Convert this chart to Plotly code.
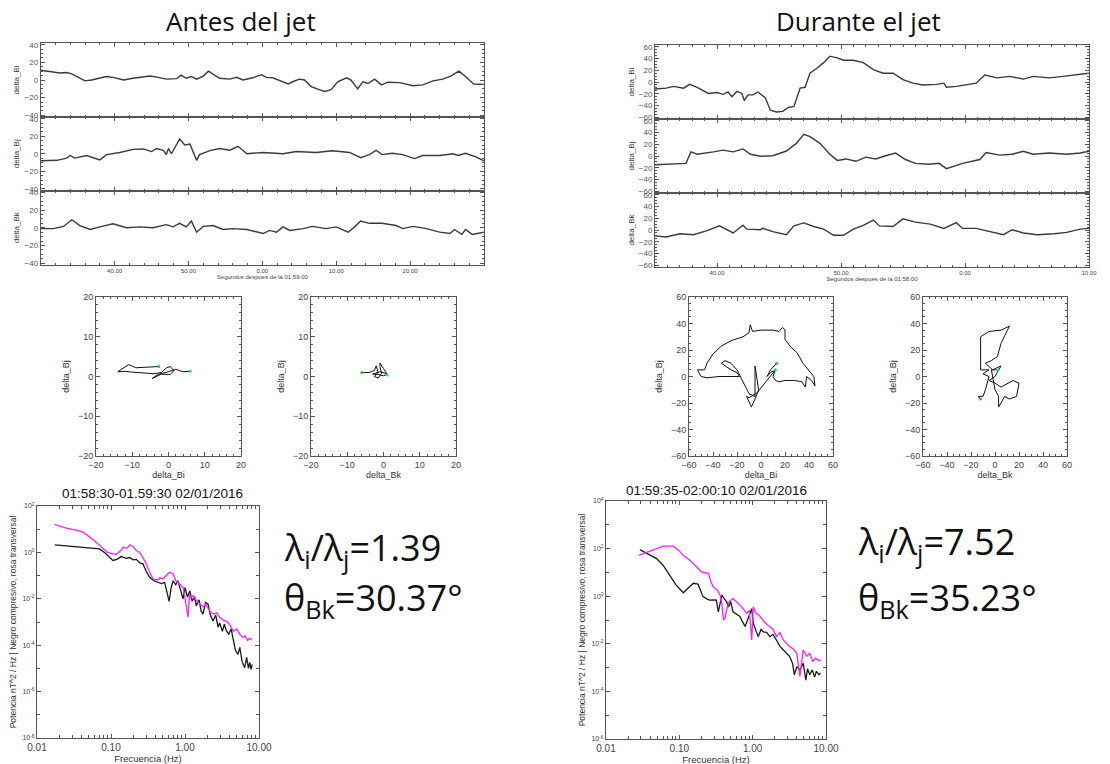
import plotly.graph_objects as go

W, H = 1110, 764
OFF = 8  # small shift so the boxes line up with the reference

# --- series temporales antes del jet (segundos desde 01:58:00)
t_bi_antes = [30, 31.7, 32.6, 33.5, 34.2, 35.3, 36, 36.9, 38, 38.9, 39.8, 41.2, 42.5, 43.9, 44.8, 45.9, 47,
              48.4, 49, 49.7, 50.4, 51.1, 52, 52.7, 53.3, 54.2, 55.6, 56.5, 57.4, 58.7, 59.9, 60.5, 61.4,
              62.6, 63.5, 64.1, 65, 65.7, 66.6, 67.7, 68.4, 69.3, 70.2, 71.4, 72, 72.9, 73.6, 74.3, 75.2,
              76.1, 77, 78.6, 80.4, 81.7, 83.1, 84.4, 85.5, 86.6, 87.5, 88.6, 90]
bi_antes = [11, 9, 8, 8.5, 7, 2, -1, 0, 2, 4, 3, 0, 2, 4, 4.5, 3, 1,
            1.5, 5.5, 2, 4, 1, 4.5, 10, 7, 2, 1, 3, 0, 2.5, 6, 3, 2.5,
            -2, -4.5, -2, 1, 0, -7.5, -11, -13, -11, -2, 2.5, 0, -10, -2, -4, 1,
            -5.5, -2.5, -3, -6.5, -5.5, -1, 1, 4.5, 10, 4, -4.5, -5]

t_bj_antes = [30, 32.2, 33.5, 34, 34.6, 36.2, 38, 38.9, 40.7, 42.5, 43.9, 45, 45.7, 46.6, 47, 47.3, 47.7,
              48.8, 49.5, 50.2, 51.1, 51.5, 52.9, 54.2, 55.6, 56.7, 57.9, 60.1, 62.8, 64.6, 67.3, 69.5,
              71.8, 73.3, 74.5, 75.4, 76.2, 77.6, 79, 80.6, 81.7, 84, 85.8, 86.5, 87.5, 88.9, 90]
bj_antes = [-8, -7.5, -5, -2, -5, -2, -7, -1, 1.5, 5, 5.5, 2.5, 6, 4, -1, 6, 0,
            17, 10, 11, -7.5, -1, 3.5, 6, 4, 8.5, 0, 1.5, 0, 2.5, 1.5, 3.5,
            1.5, -4.5, -1, 4, -1, 0.5, -1, -5.5, -2, -2, 0, -2, 0.5, -3.5, -8]

t_bk_antes = [30, 31.7, 33.1, 34.2, 35.3, 36.7, 38, 39.8, 41.6, 43.4, 45.2, 47, 47.9, 48.8, 49.7, 50.4,
              51.1, 52, 53.3, 54.7, 56, 57.9, 60.1, 61, 61.9, 62.8, 63.7, 65.5, 66.8, 68.6, 70, 71.6,
              72.5, 73.3, 74.5, 76.2, 78.1, 79, 80.4, 82.2, 84, 85.4, 86, 87, 87.5, 88.4, 90]
bk_antes = [-1, -1, 1.5, 9, 2.5, -2, 1, 4.5, 0, 1, 0, 3.5, 1, 5, 1, 7.5,
            -5, 1.5, 2.5, -2, -1, -2, -6.5, -3, -5, 1, -3, -1, 1.5, -1, 1, -5,
            1, 7.5, 5, 5, 2.5, -1, 1.5, -1, -5, -6.5, -2, -7.5, -2, -7.5, -5]

# --- series temporales durante el jet (segundos desde 01:59:00)
t_bi_durante = [35, 35.9, 36.5, 37.3, 37.8, 38.4, 39.3, 40, 40.5, 40.9, 41.2, 41.6, 42, 42.2, 42.5, 42.9,
                43.3, 43.9, 44.3, 44.8, 45.3, 45.8, 46.2, 46.7, 47.1, 47.5, 48, 48.6, 49.1, 49.7, 50.2,
                51, 51.8, 52.6, 53.4, 54.2, 55, 55.8, 56.6, 57.7, 58.3, 58.5, 59.3, 60.1, 60.9, 61.6,
                62.6, 63.6, 64.7, 65.5, 66.8, 67.9, 69, 70]
bi_durante = [-12, -10.5, -7.5, -10.5, -4, -9, -19.5, -18, -21, -17, -25, -16, -19.5, -31.5, -22, -22,
              -17, -27, -48, -51, -50, -43, -42, -10.5, -9, 15, 22.5, 33, 44, 41, 37,
              37, 33, 21, 15, 15, 4, -2, -5, -4, -2, -9, -7.5, -5, -2, 12,
              7, 9.5, 5, 9.5, 7, 9.5, 12, 15]

t_bj_durante = [35, 36.7, 37.5, 37.9, 38.4, 39.7, 40.5, 41.3, 42.1, 42.7, 43.5, 44.5, 45.6, 46.4, 47,
                47.5, 48.3, 49.1, 49.7, 50.4, 51.2, 52, 52.8, 53.6, 54.4, 55.2, 56, 57.1, 57.9, 58.5,
                59, 59.8, 61.2, 61.7, 62.8, 63.8, 64.7, 65.5, 66.8, 68.2, 69.3, 70]
bj_durante = [-15, -14, -12.5, 7, 3, 7, 10, 7, 12, 3, -0.5, 0.5, 8.5, 21.5, 37,
              33, 21.5, 3, -7.5, -5, -9, -2, -5, 0.5, 5, -6, -12.5, -14, -12.5, -21.5,
              -18, -12.5, -6, 6, 1.5, 3, 8, 3, 5, 3, 5, 8]

t_bk_durante = [35, 35.9, 37, 38.1, 39.2, 40.2, 41.3, 42.1, 42.4, 43.5, 43.7, 44.5, 45.6, 46.2, 47,
                47.8, 48.6, 49.4, 50.2, 51, 51.8, 52.6, 53.1, 54.2, 55, 56, 57.2, 58.3, 59.3, 59.8,
                60.9, 62, 63.1, 63.8, 64.7, 65.8, 67.2, 68.2, 69.3, 70]
bk_durante = [-10, -12, -6.5, -8, -1, 7, -5, 8, 1.5, 0.5, 3, -2.7, -8, 7, 12,
              6, 1.5, -9, -9, 1.5, 8, 17, 7, 6, 19, 13.5, 10, 2.7, 12.5, 2.7,
              2.7, -2.7, -8, 0.5, -5, -8, -6.5, -4, 1.5, 2.7]

# --- hodogramas
hod_bi_antes = [-2.7, -6, -9, -11, -12, -13, -14, -12, -10, -7, -4, -2, -0.5, 0.5, 1.5, 0.5, -2, -4.5,
                -3, 0, 2, 3, 4, 6]
hod_bj_antes_i = [2.5, 2.3, 2.2, 3.0, 2.3, 1.8, 1.2, 1.3, 1.1, 0.9, 0.7, 1.0, 2.2, 2.5, 1.5, 0.5, 0.6,
                  -0.5, 0.5, 1.2, 1.8, 1.5, 1.2, 1.3]
hod_bk_antes = [-6, -4, -2.5, -2, -1.5, -2.5, -1.5, -0.5, -1, -1, 0, 1, 0, -1.5, -3, -1, 0.5, 1]
hod_bj_antes_k = [1, 1, 1.5, 2.7, 1, 0, -0.4, 0.8, 2.5, 3.4, 2, 0.5, 0.2, 0.5, 0.6, 1.2, 0.8, 0.4]

hod_bi_durante = [13, 8, 5, 8, 12, 3, -3, -8, -10, -12, -8, -5, -2, -5, -5, -10, -20, -25, -30, -33,
                  -25, -20, -18, -25, -35, -45, -50, -53, -47, -45, -40, -33, -25, -15, -10, -9, -7,
                  0, 10, 15, 18, 20, 20, 25, 30, 35, 40, 44, 45, 42, 38, 37, 34, 28, 20, 15, 12, 10, 12]
hod_bj_durante_i = [10, 5, 0, 3, 5, -5, -12, -15, -16, -15, -23, -17, -10, 8, -15, -13, 5, 10, 12, 10,
                    5, 3, 0, 0, 0, -1, 0, 5, 5, 10, 17, 23, 27, 30, 33, 39, 34,
                    35, 35, 34, 37, 35, 28, 22, 18, 10, 4, 0, -7, -3, 0, -8, -4, -3, -3, -4, -3, 0, 5]
hod_bk_durante = [-12, -14, -10, -8, -5, -10, -5, -12, -12, -12, -5, 5, 12, 5, 2, -3, -8, -2, 5, 0, -5,
                  0, 5, 15, 20, 18, 12, 8, 5, 3, 3, 0, -3, 2]
hod_bj_durante_k = [-17, -15, -15, -10, 0, 2, 5, 5, 10, 30, 34, 35, 38, 25, 15, 12, 10, 5, 8, 0, -3,
                    -5, -8, -3, -5, -15, -17, -15, -20, -23, -15, -10, 5, 5]

# --- espectros
f_comp_antes = [0.0174, 0.025, 0.035, 0.05, 0.07, 0.085, 0.106, 0.12, 0.138, 0.16, 0.18, 0.199, 0.22,
                0.245, 0.27, 0.30, 0.333, 0.38, 0.43, 0.48, 0.53, 0.57, 0.61, 0.65, 0.69, 0.75, 0.80,
                0.85, 0.90, 0.94, 1.0, 1.08, 1.16, 1.25, 1.35, 1.42, 1.55, 1.65, 1.75, 1.9, 2.05, 2.2,
                2.39, 2.6, 2.8, 2.94, 3.2, 3.4, 3.62, 3.9, 4.2, 4.45, 4.8, 5.2, 5.5, 5.9, 6.4, 6.8, 7.2,
                7.5, 7.8, 8.1]
p_comp_antes = [2.1, 1.9, 1.75, 1.6, 1.42, 0.9, 0.45, 0.5, 0.66, 0.55, 0.6, 0.48, 0.5,
                0.35, 0.32, 0.15, 0.085, 0.06, 0.051, 0.045, 0.051, 0.02, 0.0078, 0.03, 0.06, 0.04, 0.06,
                0.032, 0.015, 0.0098, 0.03, 0.012, 0.022, 0.008, 0.012, 0.005, 0.009, 0.003, 0.0022,
                0.007, 0.0059, 0.002, 0.0011, 0.002, 0.0006, 0.0009, 0.0004, 0.0008, 0.00042, 0.0003,
                0.0005, 0.00021, 0.00006, 0.00004, 0.00008, 0.00002, 0.0000107, 0.00003, 0.00001,
                0.000018, 0.000009, 0.000015]
f_trans_antes = [0.0174, 0.025, 0.035, 0.0418, 0.055, 0.070, 0.09, 0.118, 0.135, 0.146, 0.165, 0.18,
                 0.199, 0.22, 0.245, 0.27, 0.30, 0.33, 0.37, 0.42, 0.46, 0.50, 0.55, 0.62, 0.69, 0.75,
                 0.85, 0.95, 1.1, 1.15, 1.2, 1.3, 1.45, 1.58, 1.75, 1.9, 2.15, 2.4, 2.7, 2.94, 3.3, 3.6,
                 4.0, 4.5, 5.0, 5.5, 6.0, 6.5, 7.0, 7.5, 8.0]
p_trans_antes = [15.6, 11, 9, 7.5, 4, 2.0, 1.0, 0.81, 1.2, 1.68, 1.5, 2.1,
                 1.8, 1.2, 1.0, 0.6, 0.32, 0.15, 0.071, 0.065, 0.08, 0.071, 0.1, 0.14, 0.12, 0.06,
                 0.044, 0.03, 0.0016, 0.015, 0.011, 0.014, 0.008, 0.0059, 0.0045, 0.006, 0.003, 0.0022,
                 0.0025, 0.0016, 0.0012, 0.0011, 0.0008, 0.0004, 0.0005, 0.0003, 0.00022, 0.00025,
                 0.00016, 0.0002, 0.00017]

f_comp_durante = [0.029, 0.04, 0.049, 0.06, 0.075, 0.09, 0.113, 0.13, 0.155, 0.18, 0.21, 0.24, 0.26,
                  0.30, 0.32, 0.34, 0.36, 0.38, 0.41, 0.44, 0.47, 0.50, 0.54, 0.6, 0.67, 0.72, 0.79,
                  0.85, 0.92, 0.97, 1.02, 1.1, 1.19, 1.3, 1.4, 1.55, 1.72, 1.9, 2.12, 2.35, 2.62, 2.9,
                  3.2, 3.5, 3.7, 4.0, 4.4, 4.9, 5.3, 5.6, 6.0, 6.5, 7.0, 7.4, 8.0, 8.4]
p_comp_durante = [91, 55, 38, 20, 6.6, 3, 1.4, 2.2, 3.5, 3.2, 0.96, 0.75, 0.69,
                  0.7, 0.69, 0.22, 0.5, 1.12, 0.8, 0.59, 0.35, 0.6, 0.22, 0.18, 0.14, 0.09, 0.053,
                  0.1, 0.22, 0.3, 0.072, 0.04, 0.02, 0.04, 0.032, 0.03, 0.02, 0.025, 0.0145, 0.008,
                  0.0055, 0.004, 0.0029, 0.0015, 0.0005, 0.0011, 0.0008, 0.0015, 0.0003, 0.0009,
                  0.0005, 0.0008, 0.0004, 0.0007, 0.0005, 0.0006]
f_trans_durante = [0.028, 0.036, 0.044, 0.06, 0.083, 0.1, 0.113, 0.135, 0.155, 0.18, 0.2, 0.25, 0.27,
                   0.29, 0.33, 0.36, 0.38, 0.40, 0.42, 0.44, 0.48, 0.54, 0.6, 0.67, 0.74, 0.82, 0.9,
                   0.97, 1.02, 1.1, 1.27, 1.45, 1.72, 1.9, 2.12, 2.35, 2.62, 2.9, 3.2, 3.6, 4.0, 4.4,
                   4.9, 5.5, 6.0, 6.6, 7.2, 8.0, 8.5]
p_trans_durante = [52, 70, 93, 126, 126, 80, 52, 35, 23.5, 15, 10.6, 9.1, 4,
                   2.5, 1.8, 1.1, 0.5, 0.1, 0.12, 0.26, 0.6, 0.8, 0.6, 0.43, 0.3, 0.19, 0.25,
                   0.0145, 0.36, 0.2, 0.14, 0.08, 0.052, 0.04, 0.02, 0.03, 0.0145, 0.01, 0.0076,
                   0.006, 0.004, 0.00043, 0.0055, 0.003, 0.004, 0.0018, 0.0025, 0.002, 0.0021]

# etiquetas de ejes
t_ticks_antes = [40, 50, 60, 70, 80]
t_labels_antes = ["40.00", "50.00", "0.00", "10.00", "20.00"]
t_ticks_durante = [40, 50, 60, 70]
t_labels_durante = ["40.00", "50.00", "0.00", "10.00"]
f_ticks = [0.01, 0.1, 1, 10]
f_labels = ["0.01", "0.10", "1.00", "10.00"]
p_exp_antes = [-8, -6, -4, -2, 0, 2]
p_exp_durante = [-6, -4, -2, 0, 2, 4]


def px(v):
    return (v - OFF) / W


def py(v):
    return 1 - (v - OFF) / H


def dx(a, b):
    return [px(a), px(b)]


def dy(top, bottom):
    return [py(bottom), py(top)]


FONT = "Liberation Sans, Arial"
LINE = "#555"


def axis(**kw):
    base = dict(showline=True, linecolor=LINE, linewidth=1, mirror="ticks", ticks="inside",
                tickcolor=LINE, ticklen=4, showgrid=False, zeroline=False, automargin=False,
                tickfont=dict(family=FONT, size=8, color="#444"))
    base.update(kw)
    return base


def atitle(text, size=8, standoff=3):
    return dict(text=text, font=dict(family=FONT, size=size, color="#333"), standoff=standoff)


fig = go.Figure()
layout = {}

ts_line = dict(color="#3a3a3a", width=1.4)

# paneles temporales
ts_sets = [
    ([(t_bi_antes, bi_antes, "delta_Bi"), (t_bj_antes, bj_antes, "delta_Bj"),
      (t_bk_antes, bk_antes, "delta_Bk")],
     (40.7, 484), [(43, 117), (117, 190.5), (190.5, 265)], [-42, 42], 20, 5, [30, 90],
     t_ticks_antes, t_labels_antes, 2, "Segundos despues de la 01:59:00"),
    ([(t_bi_durante, bi_durante, "delta_Bi"), (t_bj_durante, bj_durante, "delta_Bj"),
      (t_bk_durante, bk_durante, "delta_Bk")],
     (655, 1089), [(45, 119), (119, 193), (193, 267)], [-63, 63], 20, 5, [35, 70],
     t_ticks_durante, t_labels_durante, 1, "Segundos despues de la 01:58:00"),
]

n = 0
for series, (x0, x1), rows, yr, ydt, ymin, xr, tv, tt, xmin, xlabel in ts_sets:
    last = n + 3
    for (tx, vy, lab), (top, bot) in zip(series, rows):
        n += 1
        fig.add_trace(go.Scatter(x=tx, y=vy, mode="lines", line=ts_line,
                                 xaxis="x%d" % n, yaxis="y%d" % n, showlegend=False))
        xa = axis(domain=dx(x0, x1), anchor="y%d" % n, range=xr, tickmode="array", tickvals=tv,
                  ticktext=tt, minor=dict(ticks="inside", dtick=xmin, ticklen=2, tickcolor=LINE),
                  tickfont=dict(family=FONT, size=6, color="#444"))
        if n != last:
            xa["showticklabels"] = False
            xa["matches"] = "x%d" % last
        else:
            xa["title"] = dict(text=xlabel, font=dict(family=FONT, size=6, color="#444"), standoff=0)
        layout["xaxis%d" % n] = xa
        layout["yaxis%d" % n] = axis(domain=dy(top, bot), anchor="x%d" % n, range=yr, dtick=ydt,
                                     minor=dict(ticks="inside", dtick=ymin, ticklen=2, tickcolor=LINE),
                                     title=atitle(lab),
                                     tickfont=dict(family=FONT, size=8, color="#555"))

# hodogramas
hod_sets = [
    (hod_bi_antes, hod_bj_antes_i, "delta_Bi", (96, 241), [-20, 20], 10, 2),
    (hod_bk_antes, hod_bj_antes_k, "delta_Bk", (311, 456), [-20, 20], 10, 2),
    (hod_bi_durante, hod_bj_durante_i, "delta_Bi", (689, 833), [-60, 60], 20, 5),
    (hod_bk_durante, hod_bj_durante_k, "delta_Bk", (923, 1067), [-60, 60], 20, 5),
]
for hx, hy, lab, (x0, x1), r, dt, mn in hod_sets:
    n += 1
    fig.add_trace(go.Scatter(x=hx, y=hy, mode="lines", line=dict(color="#111", width=1),
                             xaxis="x%d" % n, yaxis="y%d" % n, showlegend=False))
    fig.add_trace(go.Scatter(x=[hx[0], hx[-1]], y=[hy[0], hy[-1]], mode="markers",
                             marker=dict(color=["#22cc22", "#22cccc"], size=3),
                             xaxis="x%d" % n, yaxis="y%d" % n, showlegend=False))
    layout["xaxis%d" % n] = axis(domain=dx(x0, x1), anchor="y%d" % n, range=r, dtick=dt,
                                 minor=dict(ticks="inside", dtick=mn, ticklen=2, tickcolor=LINE),
                                 title=atitle(lab, 9, 2),
                                 tickfont=dict(family=FONT, size=9, color="#444"))
    layout["yaxis%d" % n] = axis(domain=dy(297, 456), anchor="x%d" % n, range=r, dtick=dt,
                                 minor=dict(ticks="inside", dtick=mn, ticklen=2, tickcolor=LINE),
                                 title=atitle("delta_Bj", 9, 6),
                                 tickfont=dict(family=FONT, size=9, color="#444"))

# espectros
spec_sets = [
    (f_comp_antes, p_comp_antes, f_trans_antes, p_trans_antes, (37, 259), (506, 738), p_exp_antes),
    (f_comp_durante, p_comp_durante, f_trans_durante, p_trans_durante, (606, 826), (501, 739),
     p_exp_durante),
]
for fc, pc, ft, pt, (x0, x1), (y0, y1), pe in spec_sets:
    n += 1
    fig.add_trace(go.Scatter(x=fc, y=pc, mode="lines", line=dict(color="#1a1a1a", width=1.3),
                             xaxis="x%d" % n, yaxis="y%d" % n, showlegend=False))
    fig.add_trace(go.Scatter(x=ft, y=pt, mode="lines", line=dict(color="#ff1dff", width=1.3),
                             xaxis="x%d" % n, yaxis="y%d" % n, showlegend=False))
    layout["xaxis%d" % n] = axis(domain=dx(x0, x1), anchor="y%d" % n, type="log", range=[-2, 1],
                                 tickmode="array", tickvals=f_ticks, ticktext=f_labels,
                                 minor=dict(ticks="inside", dtick="D1", ticklen=3, tickcolor=LINE),
                                 title=atitle("Frecuencia (Hz)", 9.5, 1),
                                 tickfont=dict(family=FONT, size=10, color="#444"))
    layout["yaxis%d" % n] = axis(domain=dy(y0, y1), anchor="x%d" % n, type="log",
                                 range=[pe[0], pe[-1]], tickmode="array",
                                 tickvals=[10.0 ** e for e in pe],
                                 ticktext=["10<sup>%d</sup>" % e for e in pe],
                                 minor=dict(ticks="inside", dtick=1, ticklen=3, tickcolor=LINE),
                                 title=atitle("Potencia nT^2 / Hz | Negro compresivo, rosa transversal",
                                              8.5, 4),
                                 tickfont=dict(family=FONT, size=7, color="#444"))

annots = [
    dict(x=px(241), y=py(21), text="Antes del jet", size=26),
    dict(x=px(858), y=py(21), text="Durante el jet", size=26),
    dict(x=px(152), y=py(493), text="01:58:30-01.59:30 02/01/2016", size=13.5, family=FONT),
    dict(x=px(716), y=py(490), text="01:59:35-02:00:10 02/01/2016", size=13.5, family=FONT),
    dict(x=px(282), y=py(549), text="λ<sub>i</sub>/λ<sub>j</sub>=1.39", xanchor="left", size=36),
    dict(x=px(282), y=py(599), text="θ<sub>Bk</sub>=30.37°", xanchor="left", size=36),
    dict(x=px(856), y=py(543), text="λ<sub>i</sub>/λ<sub>j</sub>=7.52", xanchor="left", size=36),
    dict(x=px(856), y=py(599), text="θ<sub>Bk</sub>=35.23°", xanchor="left", size=36),
]
for a in annots:
    a.setdefault("xanchor", "center")
    a["font"] = dict(family=a.pop("family", "Open Sans"), size=a.pop("size"), color="#111")
    a.update(yanchor="middle", xref="paper", yref="paper", showarrow=False)

fig.update_layout(**layout)
fig.update_layout(width=W, height=H, margin=dict(l=0, r=0, t=0, b=0), paper_bgcolor="white",
                  plot_bgcolor="white", showlegend=False, annotations=annots)
fig.write_html("out.html")
